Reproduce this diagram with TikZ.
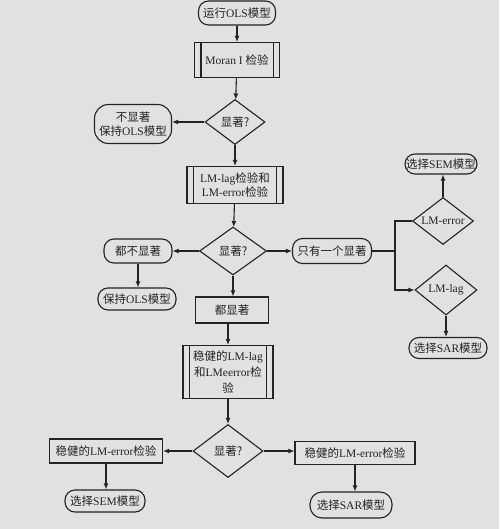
\documentclass[tikz,border=0pt]{standalone}
\usepackage{fontspec}
\setmainfont{Liberation Serif}
\newfontfamily\cjk{Noto Sans CJK SC}
\usetikzlibrary{shapes.geometric,arrows.meta}
\definecolor{paper}{RGB}{226,224,226}
\definecolor{ink}{RGB}{35,35,35}
\newcommand{\zh}[1]{{\cjk #1}}
\begin{document}
\begin{tikzpicture}[x=1pt,y=-1pt,
  font=\fontsize{11.5}{14}\selectfont, text=ink,
  line width=1.1pt,
  rbox/.style={draw=ink, rounded corners=10pt, inner sep=0pt, align=center},
  pbox/.style={draw=ink, inner sep=0pt, align=center},
  dia/.style={draw=ink, diamond, inner sep=0pt, shape aspect=1.3},
  arr/.style={draw=ink, -{Latex[length=6pt,width=5pt]}},
  ln/.style={draw=ink}
]
\fill[paper] (0,0) rectangle (499,529);
\useasboundingbox (0,0) rectangle (499,529);

% main column
\node[rbox, minimum width=77pt, minimum height=24pt] (run) at (237,13) {\zh{运行}OLS\zh{模型}};
\node[pbox, minimum width=85pt, minimum height=35pt] (moran) at (237,60) {Moran I \zh{检验}};
\node[dia, minimum width=60pt, minimum height=45pt] (d1) at (235,122) {\zh{显著?}};
\node[rbox, minimum width=77pt, minimum height=39pt, rounded corners=14pt] (nsig) at (133,124) {\zh{不显著}\\\zh{保持}OLS\zh{模型}};
\node[pbox, minimum width=96pt, minimum height=37pt] (lm) at (235,185) {LM-lag\zh{检验和}\\LM-error\zh{检验}};
\node[dia, minimum width=67pt, minimum height=48pt] (d2) at (233,251) {\zh{显著?}};
\node[rbox, minimum width=68pt, minimum height=24pt] (none) at (138,251) {\zh{都不显著}};
\node[rbox, minimum width=78pt, minimum height=22pt] (keep) at (137,299) {\zh{保持}OLS\zh{模型}};
\node[pbox, minimum width=73pt, minimum height=26pt] (both) at (232,310) {\zh{都显著}};
\node[rbox, minimum width=79pt, minimum height=25pt] (one) at (332,251) {\zh{只有一个显著}};
\node[dia, minimum width=61pt, minimum height=47pt] (de) at (443,221) {LM-error};
\node[rbox, minimum width=72pt, minimum height=20pt] (sem1) at (441,164) {\zh{选择}SEM\zh{模型}};
\node[dia, minimum width=62pt, minimum height=50pt] (dl) at (446,290) {LM-lag};
\node[rbox, minimum width=78pt, minimum height=21pt] (sar1) at (448,348) {\zh{选择}SAR\zh{模型}};
\node[pbox, minimum width=90pt, minimum height=53pt, text width=84pt, font=\fontsize{11.5}{16}\selectfont] (rob) at (228,372) {\zh{稳健的}LM-lag\\\zh{和}LMeerror\zh{检}\\\zh{验}};
\node[dia, minimum width=70pt, minimum height=53pt] (d3) at (228,451) {\zh{显著?}};
\node[pbox, minimum width=113pt, minimum height=24pt] (rl) at (106,451) {\zh{稳健的}LM-error\zh{检验}};
\node[rbox, minimum width=80pt, minimum height=22pt] (sem2) at (105,501) {\zh{选择}SEM\zh{模型}};
\node[pbox, minimum width=120pt, minimum height=23pt] (rr) at (355,453) {\zh{稳健的}LM-error\zh{检验}};
\node[rbox, minimum width=82pt, minimum height=26pt, rounded corners=12pt] (sar2) at (351,505) {\zh{选择}SAR\zh{模型}};

% predefined-process inner lines
\foreach \n in {moran,lm,rob}{
  \draw[ln] ([xshift=7pt]\n.north west) -- ([xshift=7pt]\n.south west);
  \draw[ln] ([xshift=-7pt]\n.north east) -- ([xshift=-7pt]\n.south east);
}

\coordinate (bj) at (395,251);

% connectors
\draw[arr] (run) -- (moran);
\draw[arr] (moran) -- (d1);
\draw[arr] (d1.west) -- (d1.west -| nsig.east);
\draw[arr] (d1.south) -- (lm.north);
\draw[arr] (lm) -- (d2);
\draw[arr] (d2.west) -- (d2.west -| none.east);
\draw[arr] (none.south) -- (none.south |- keep.north);
\draw[arr] (d2.east) -- (d2.east -| one.west);
\draw[arr] (d2.south) -- (d2.south |- both.north);
\draw[ln] (one.east) -- (bj) |- (de.west);
\draw[arr] (bj) |- (dl.west);
\draw[arr] (de.north) -- (de.north |- sem1.south);
\draw[arr] (dl.south) -- (dl.south |- sar1.north);
\draw[arr] (both.south -| rob.north) -- (rob.north);
\draw[arr] (rob) -- (d3);
\draw[arr] (d3.west) -- (d3.west -| rl.east);
\draw[arr] (d3.east) -- (d3.east -| rr.west);
\draw[arr] (rl.south) -- (rl.south |- sem2.north);
\draw[arr] (rr.south) -- (rr.south |- sar2.north);
\end{tikzpicture}
\end{document}
